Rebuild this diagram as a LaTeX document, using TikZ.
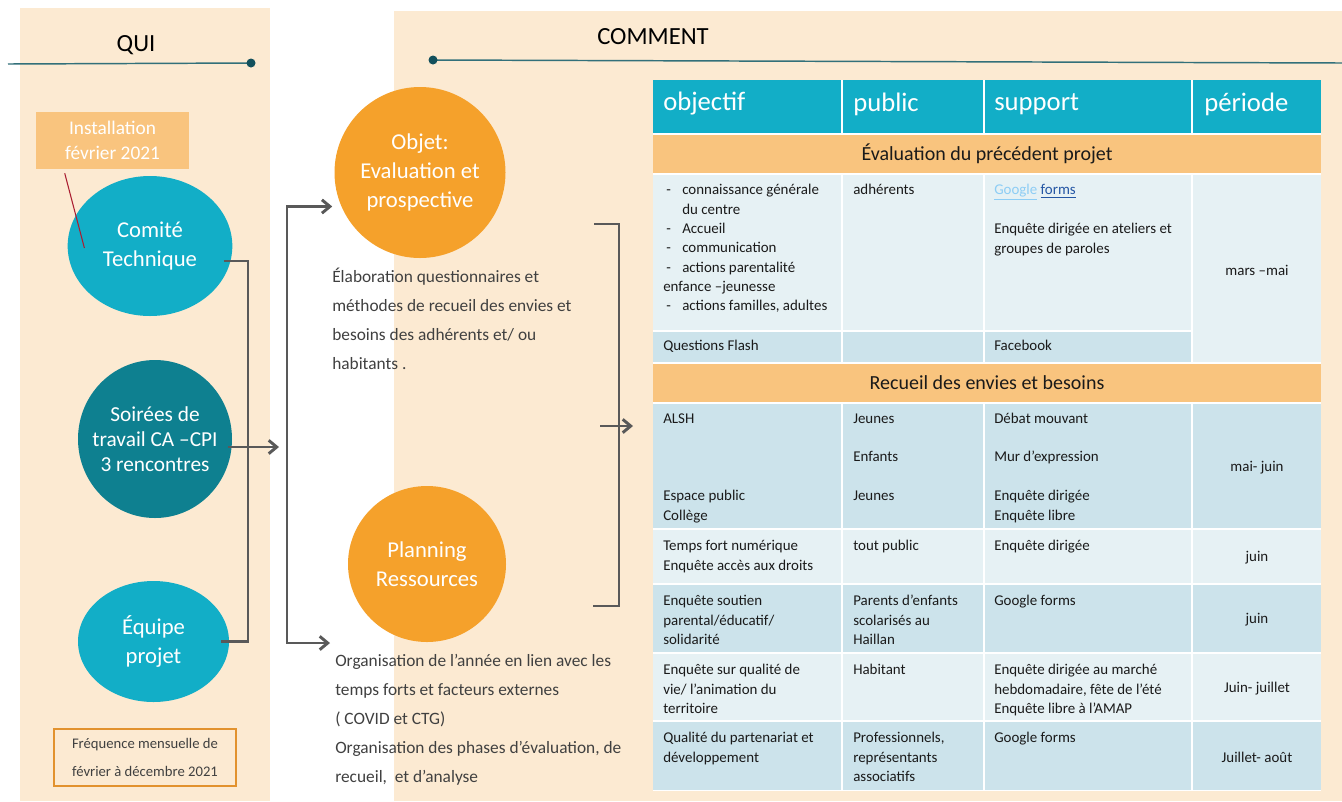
\documentclass[tikz,border=0pt]{standalone}
\usepackage{fontspec}
\setmainfont{Carlito}
\usetikzlibrary{shapes.geometric,arrows.meta}

\definecolor{qpanel}{RGB}{252,234,210}
\definecolor{qcyan}{RGB}{18,174,199}
\definecolor{qteal}{RGB}{14,128,144}
\definecolor{qorange}{RGB}{245,161,43}
\definecolor{qpeach}{RGB}{249,196,126}
\definecolor{rowlight}{RGB}{230,241,244}
\definecolor{rowdark}{RGB}{204,227,235}
\definecolor{linkgrey}{RGB}{89,89,89}
\definecolor{greytext}{RGB}{64,64,64}
\definecolor{ink}{RGB}{26,26,26}
\definecolor{rulecol}{RGB}{50,112,122}
\definecolor{dotcol}{RGB}{18,80,92}
\definecolor{fborder}{RGB}{226,146,46}
\definecolor{calloutred}{RGB}{170,30,50}
\definecolor{gblue}{RGB}{141,205,245}
\definecolor{fblue}{RGB}{36,86,164}

\newcommand\itemdash{\makebox[14.25pt][l]{\hspace{2.25pt}-}}
\newcommand\itemgap{\hspace*{14.25pt}}

\tikzset{
  paneltitle/.style={font=\fontsize{18.5}{22}\selectfont, text=black, inner sep=0pt},
  bubble/.style={ellipse, inner sep=-8pt, text=white, align=center, font=\fontsize{17}{22}\selectfont},
  link/.style={draw=linkgrey, line width=2.2pt},
  arrowlink/.style={-{Straight Barb[length=6pt,width=10pt]}},
  bothlink/.style={{Straight Barb[length=6pt,width=10pt]}-{Straight Barb[length=6pt,width=10pt]}},
  headrule/.style={draw=rulecol, line width=1.1pt},
  midtext/.style={anchor=north west, align=left, inner sep=0pt, text=greytext, font=\fontsize{13}{21.75}\selectfont},
  headcell/.style={anchor=west, inner sep=0pt, text=white, font=\fontsize{20}{24}\selectfont},
  sectitle/.style={inner sep=0pt, text=ink, font=\fontsize{15}{18}\selectfont},
  celltext/.style={anchor=north west, align=left, inner sep=0pt, text=ink, font=\fontsize{11.2}{14.5}\selectfont},
  periode/.style={inner sep=0pt, text=ink, font=\fontsize{11.2}{14.5}\selectfont},
  sep/.style={draw=white, line width=1.5pt}
}

\begin{document}
\begin{tikzpicture}[x=0.75pt,y=-0.75pt]
\useasboundingbox (0,0) rectangle (1342,801);
\fill[white] (0,0) rectangle (1342,801);
% panels
\fill[qpanel] (20,8) rectangle (270,801);
\fill[qpanel] (394,11) rectangle (1342,801);

% titles
\node[paneltitle] (qui) at (136,45) {QUI};
\node[paneltitle] (comment) at (653,37) {COMMENT};
\coordinate (qui-a) at (8,64);
\coordinate (qui-b) at (251,63);
\coordinate (com-a) at (433,60);
\coordinate (com-b) at (1342,63);
\draw[headrule] (qui-a) -- (qui-b);
\fill[dotcol] (qui-b) circle (4.5);
\draw[headrule] (com-a) -- (com-b);
\fill[dotcol] (com-a) circle (4.5);

% QUI
\node[fill=qpeach, minimum width=114.75pt, minimum height=42.75pt, inner sep=0pt, text=white, align=center,
  font=\fontsize{14.5}{18.75}\selectfont] (inst) at (112.5,140.5) {Installation\\février 2021};
\node[bubble, fill=qcyan, minimum width=123.5pt, minimum height=105pt] (comite) at (150,246) {Comité\\Technique};
\node[bubble, fill=qteal, minimum width=115.5pt, minimum height=118.5pt, font=\fontsize{16}{19}\selectfont]
  (soirees) at (155,439) {Soirées de\\travail CA –CPI\\3 rencontres};
\node[bubble, fill=qcyan, minimum width=113.25pt, minimum height=90.75pt] (equipe) at (153.5,641.5) {Équipe\\projet};
\node[draw=fborder, line width=1pt, minimum width=136.5pt, minimum height=42.75pt, inner sep=0pt, align=center,
  text=greytext, font=\fontsize{11}{21}\selectfont] (freq) at (145,757.5) {Fréquence mensuelle de\\février à décembre 2021};
\draw[draw=calloutred, line width=0.8pt] ([shift={(29,4)}]inst.south west) -- ([shift={(17,2)}]comite.west);

\coordinate (qjoin) at (248,440);
\coordinate (mid-in) at (279,447);
\draw[link] ([shift={(-9,15)}]comite.east) -| (qjoin) |- ([shift={(-8,0)}]equipe.east);
\draw[link, arrowlink] ([shift={(-4,8)}]soirees.east) -- (mid-in);

% COMMENT
\node[bubble, fill=qorange, minimum width=128.25pt, minimum height=128.25pt] (objet) at (420,172.5) {Objet:\\Evaluation et\\prospective};
\node[bubble, fill=qorange, minimum width=118.5pt, minimum height=117pt] (planning) at (427,564) {Planning\\Ressources};
\node[midtext] (elab) at (332,262) {\strut Élaboration questionnaires et\\méthodes de recueil des envies et\\besoins des adhérents et/ ou\\habitants .};
\node[midtext] (orga) at (335,646) {\strut Organisation de l’année en lien avec les\\temps forts et facteurs externes\\( COVID et CTG)\\Organisation des phases d’évaluation, de\\recueil,~ et d’analyse};

\coordinate (mjoin) at (287,430);
\coordinate (orga-in) at (330,643);
\draw[link, bothlink] ([shift={(-2,34)}]objet.west) -| (mjoin) |- (orga-in);

\coordinate (rb-top) at (594,224);
\coordinate (rb-bot) at (593,606);
\coordinate (rjoin) at (619,426);
\coordinate (rb-arrow) at (600,426);
\coordinate (table-in) at (633,426);
\draw[link] (rb-top) -| (rjoin) |- (rb-bot);
\draw[link, arrowlink] (rb-arrow) -- (table-in);

% table
\fill[white] (653,80) rectangle (1321,791);
\fill[qcyan] (653,80) rectangle (1321,133);
\fill[qpeach] (653,135) rectangle (1321,173);
\fill[rowlight] (653,175) rectangle (1321,362);
\fill[rowdark] (653,332) rectangle (1192,362);
\fill[qpeach] (653,364) rectangle (1321,402);
\fill[rowdark] (653,404) rectangle (1321,528);
\fill[rowlight] (653,530) rectangle (1321,583);
\fill[rowdark] (653,585) rectangle (1321,652);
\fill[rowlight] (653,654) rectangle (1321,720);
\fill[rowdark] (653,722) rectangle (1321,790);
\draw[sep] (842,80) -- (842,133) (984,80) -- (984,133) (1192,80) -- (1192,133);
\draw[sep] (842,175) -- (842,362) (984,175) -- (984,362) (1192,175) -- (1192,362);
\draw[sep] (842,404) -- (842,790) (984,404) -- (984,790) (1192,404) -- (1192,790);
\draw[sep] (653,331) -- (1192,331);

\node[headcell] (h-obj) at (663,104) {objectif};
\node[headcell] (h-pub) at (853,104) {public};
\node[headcell] (h-sup) at (994,104) {support};
\node[headcell] (h-per) at (1204,104) {période};

\node[sectitle] (sec-eval) at (987,154) {Évaluation du précédent projet};
\node[sectitle] (sec-recueil) at (987,383) {Recueil des envies et besoins};

% evaluation
\node[celltext] (c-obj1) at (663,181) {\strut\itemdash connaissance générale\\\itemgap du centre\\\itemdash Accueil\\\itemdash communication\\\itemdash actions parentalité\\enfance –jeunesse\\\itemdash actions familles, adultes};
\node[celltext] (c-pub1) at (853,181) {\strut adhérents};
\node[celltext] (c-sup1) at (994,181) {\strut{\color{gblue}\underline{Google}} {\color{fblue}\underline{forms}}};
\node[celltext] (c-sup1b) at (994,220) {\strut Enquête dirigée en ateliers et\\groupes de paroles};
\node[periode] (p-1) at (1257,270) {mars –mai};
\node[celltext] (c-obj2) at (663,337) {\strut Questions Flash};
\node[celltext] (c-sup2) at (994,337) {\strut Facebook};

% recueil
\node[celltext] (c-obj3) at (663,410) {\strut ALSH};
\node[celltext] (c-obj3b) at (663,487) {\strut Espace public\\Collège};
\node[celltext] (c-pub3) at (853,410) {\strut Jeunes};
\node[celltext] (c-pub3b) at (853,448) {\strut Enfants};
\node[celltext] (c-pub3c) at (853,487) {\strut Jeunes};
\node[celltext] (c-sup3) at (994,410) {\strut Débat mouvant};
\node[celltext] (c-sup3b) at (994,448) {\strut Mur d’expression};
\node[celltext] (c-sup3c) at (994,487) {\strut Enquête dirigée\\Enquête libre};
\node[periode] (p-3) at (1257,468) {mai- juin};

\node[celltext] (c-obj4) at (663,537) {\strut Temps fort numérique\\Enquête accès aux droits};
\node[celltext] (c-pub4) at (853,537) {\strut tout public};
\node[celltext] (c-sup4) at (994,537) {\strut Enquête dirigée};
\node[periode] (p-4) at (1257,558) {juin};

\node[celltext] (c-obj5) at (663,592) {\strut Enquête soutien\\parental/éducatif/\\solidarité};
\node[celltext] (c-pub5) at (853,592) {\strut Parents d’enfants\\scolarisés au\\Haillan};
\node[celltext] (c-sup5) at (994,592) {\strut Google forms};
\node[periode] (p-5) at (1257,620) {juin};

\node[celltext] (c-obj6) at (663,661) {\strut Enquête sur qualité de\\vie/ l’animation du\\territoire};
\node[celltext] (c-pub6) at (853,661) {\strut Habitant};
\node[celltext] (c-sup6) at (994,661) {\strut Enquête dirigée au marché\\hebdomadaire, fête de l’été\\Enquête libre à l’AMAP};
\node[periode] (p-6) at (1257,689) {Juin- juillet};

\node[celltext] (c-obj7) at (663,729) {\strut Qualité du partenariat et\\développement};
\node[celltext] (c-pub7) at (853,729) {\strut Professionnels,\\représentants\\associatifs};
\node[celltext] (c-sup7) at (994,729) {\strut Google forms};
\node[periode] (p-7) at (1257,757) {Juillet- août};
\end{tikzpicture}
\end{document}
